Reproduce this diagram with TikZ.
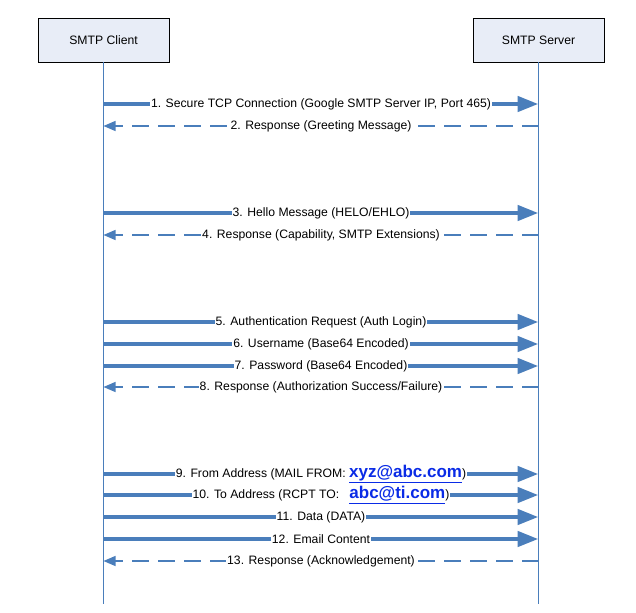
\documentclass[tikz,border=0pt]{standalone}
\usepackage{fontspec}
\setmainfont{Liberation Sans}
\usetikzlibrary{arrows.meta,positioning,calc}
\definecolor{lifeblue}{HTML}{4A7EBB}
\definecolor{boxfill}{HTML}{E8EDF7}
\definecolor{linkblue}{HTML}{0A2BE6}
\newcommand{\maillink}[1]{{\fontsize{17}{17}\selectfont\bfseries\color{linkblue}\underline{#1}}}

\begin{document}
\begin{tikzpicture}[
  x=1pt, y=-1pt,
  font=\fontsize{12.2}{14}\selectfont,
  actor/.style={draw, fill=boxfill, line width=0.9pt, minimum width=131pt, minimum height=44pt},
  life/.style={draw=lifeblue, line width=1pt},
  req/.style={draw=lifeblue, line width=4.5pt, -{Triangle[length=21pt,width=15pt]}},
  resp/.style={draw=lifeblue, line width=1.2pt, dash pattern=on 17pt off 9pt,
               -{Triangle[length=12pt,width=10pt]}},
  msg/.style={fill=white, inner sep=1pt, text=black}
]
  \useasboundingbox (0,0) rectangle (636,612);

  \node[actor] (client) at (103.5,40) {SMTP Client};
  \node[actor] (server) at (538.5,40) {SMTP Server};
  \coordinate (cend) at (client.south |- 0,604);
  \coordinate (send) at (server.south |- 0,604);
  \draw[life] (client) -- (cend);
  \draw[life] (server) -- (send);

  % message heights on both lifelines
  \foreach \n/\y in {1/104,2/126,3/213,4/235,5/322,6/344,7/366,8/387,
                     9/474,10/495,11/517,12/539,13/561} {
    \coordinate (c\n) at (client.south |- 0,\y);
    \coordinate (s\n) at (server.south |- 0,\y);
  }

  \draw[req]  (c1) -- node[msg] {1. Secure TCP Connection (Google SMTP Server IP, Port 465)} (s1);
  \draw[resp] (s2) -- node[msg] {2. Response (Greeting Message)} (c2);

  \draw[req]  (c3) -- node[msg] {3. Hello Message (HELO/EHLO)} (s3);
  \draw[resp] (s4) -- node[msg] {4. Response (Capability, SMTP Extensions)} (c4);

  \draw[req]  (c5) -- node[msg] {5. Authentication Request (Auth Login)} (s5);
  \draw[req]  (c6) -- node[msg] {6. Username (Base64 Encoded)} (s6);
  \draw[req]  (c7) -- node[msg] {7. Password (Base64 Encoded)} (s7);
  \draw[resp] (s8) -- node[msg] {8. Response (Authorization Success/Failure)} (c8);

  \draw[req]  (c9) -- node[msg] {9. From Address (MAIL FROM: \maillink{xyz@abc.com})} (s9);
  \draw[req]  (c10) -- node[msg] {10. To Address (RCPT TO:\ \ \ \maillink{abc@ti.com})} (s10);
  \draw[req]  (c11) -- node[msg] {11. Data (DATA)} (s11);
  \draw[req]  (c12) -- node[msg] {12. Email Content} (s12);
  \draw[resp] (s13) -- node[msg] {13. Response (Acknowledgement)} (c13);
\end{tikzpicture}
\end{document}
